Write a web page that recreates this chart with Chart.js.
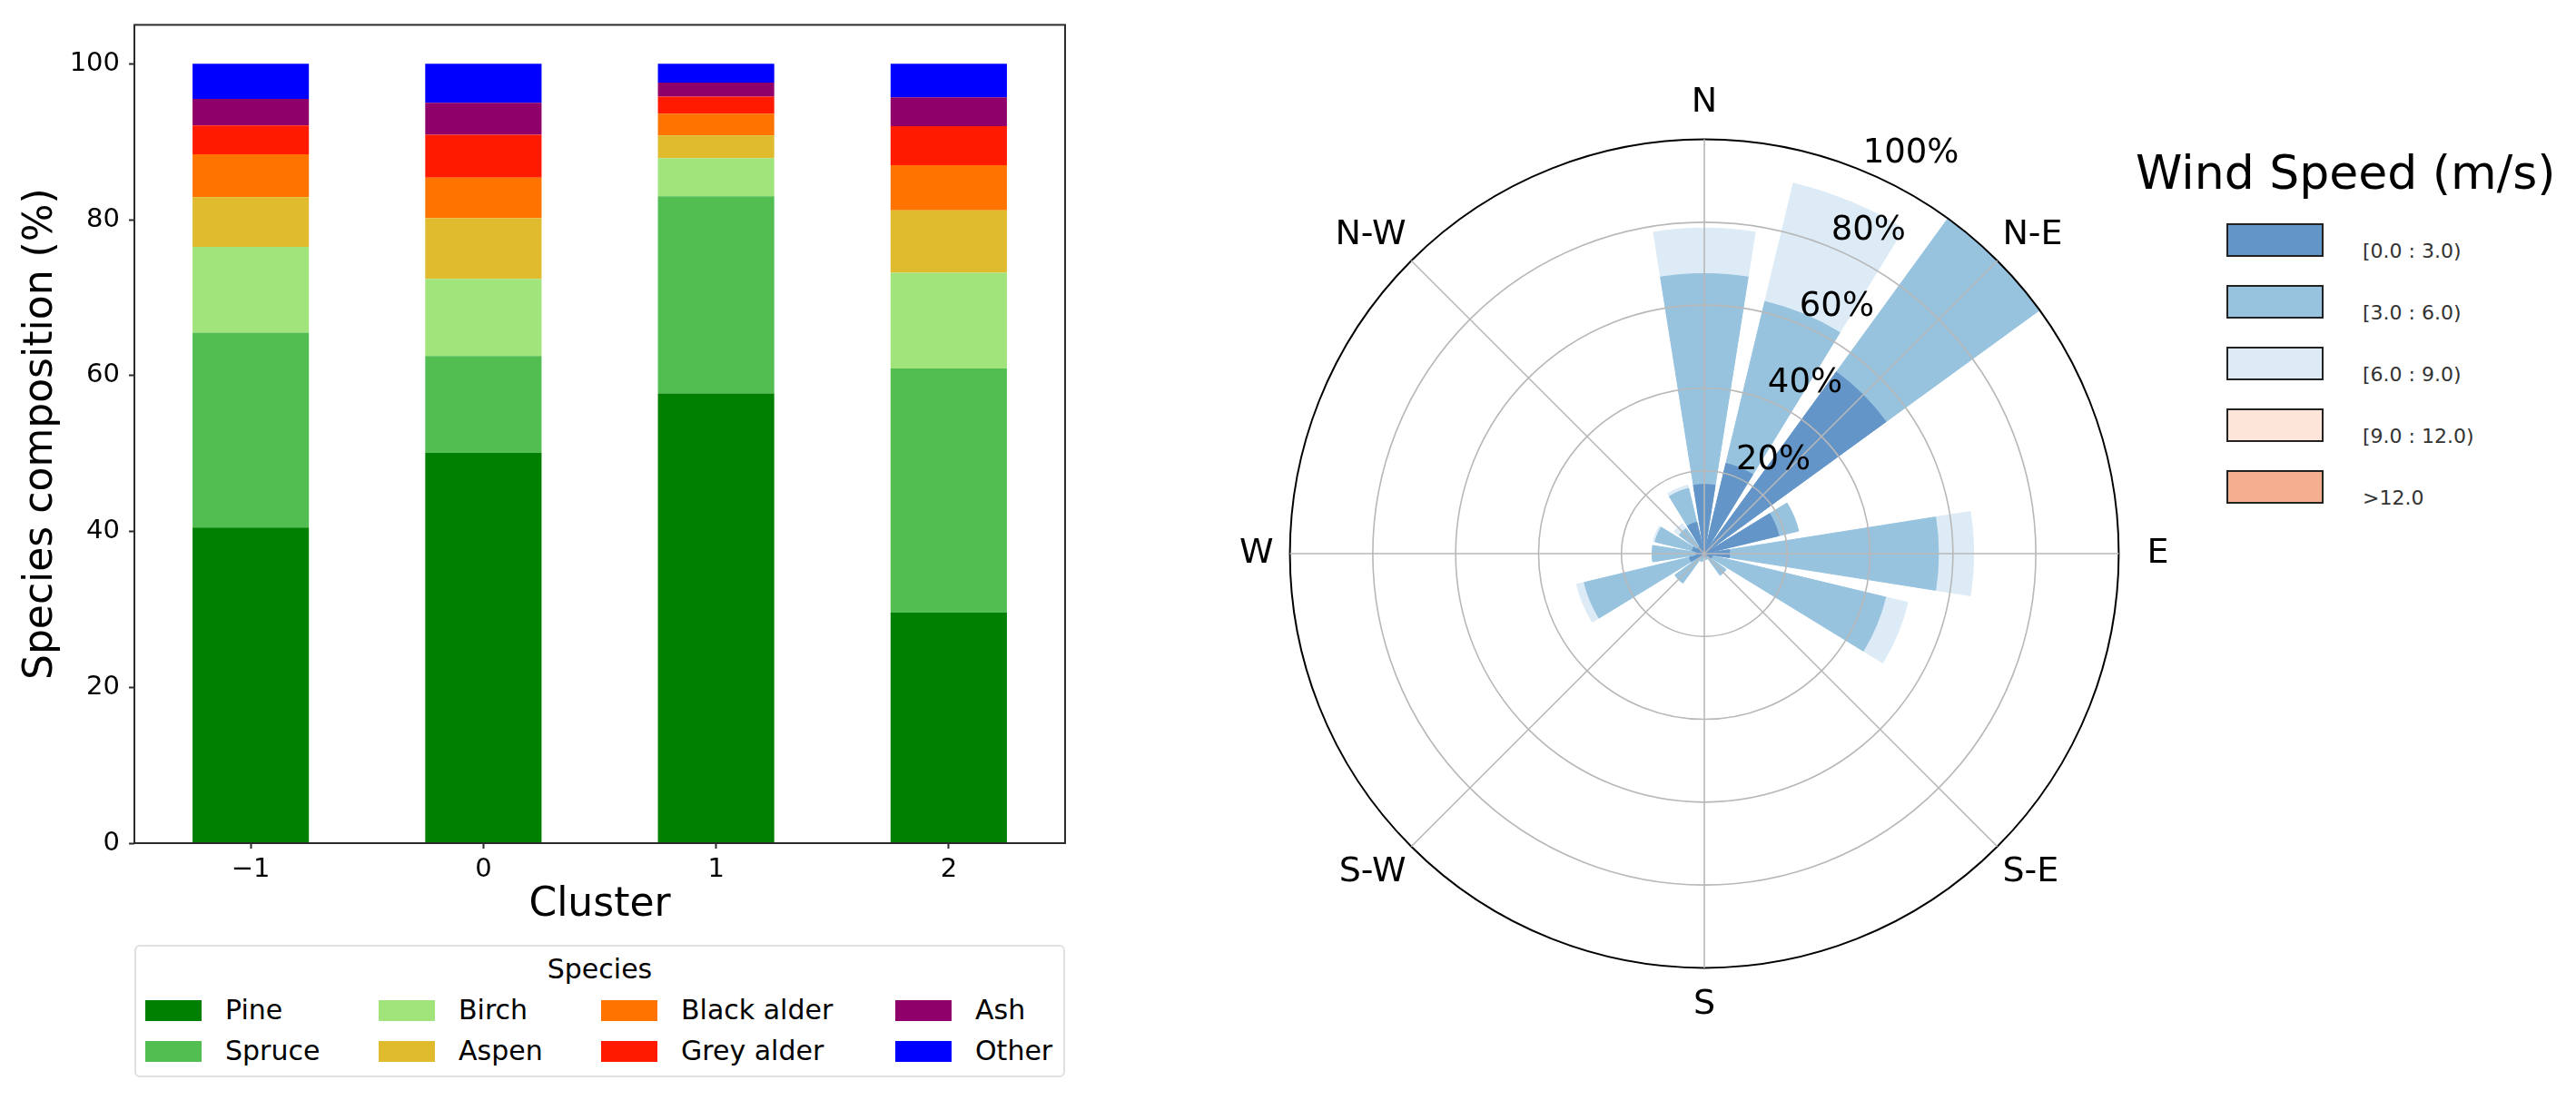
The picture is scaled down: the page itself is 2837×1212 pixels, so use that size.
<!DOCTYPE html>
<html lang="en">
<head>
<meta charset="utf-8">
<title>Species composition and wind rose</title>
<script src="https://cdn.jsdelivr.net/npm/chart.js@4.4.1/dist/chart.umd.min.js"></script>
<style>
  html, body { margin: 0; padding: 0; background: #fff; }
  body { position: relative; width: 2837px; height: 1212px; overflow: hidden;
         font-family: 'DejaVu Sans', sans-serif; color: #000; }
  .box { position: absolute; }
  #speciesLegend { position: absolute; left: 148px; top: 1041px; width: 1025px; height: 146px;
                   box-sizing: border-box; border: 2px solid #e0e0e0; border-radius: 6px; }
  .tag { position: absolute; white-space: nowrap; }
  .swatch { position: absolute; box-sizing: border-box; }
</style>
</head>
<body>
<div class="box" style="left:0;top:0;width:1300px;height:1040px"><canvas id="barChart"></canvas></div>
<div id="speciesLegend"></div>
<div class="box" style="left:1357px;top:90px;width:1040px;height:1040px"><canvas id="roseChart"></canvas></div>
<script>
// Left: species composition per cluster (%)
const clusters = ['\u22121', '0', '1', '2'];
const species = ['Pine', 'Spruce', 'Birch', 'Aspen', 'Black alder', 'Grey alder', 'Ash', 'Other'];
const speciesColors = ['#008000', '#52be52', '#a1e47b', '#e0bb2e', '#ff7400', '#ff1a00', '#8f006b', '#0000ff'];
const pine = [40.5, 50.1, 57.7, 29.6];
const spruce = [25.0, 12.4, 25.3, 31.3];
const birch = [11.0, 9.9, 4.9, 12.3];
const aspen = [6.4, 7.8, 2.9, 8.0];
const blackAlder = [5.5, 5.2, 2.8, 5.8];
const greyAlder = [3.7, 5.5, 2.2, 5.0];
const ash = [3.4, 4.1, 1.8, 3.7];
const other = [4.5, 5.0, 2.4, 4.3];
const yTicks = [0, 20, 40, 60, 80, 100];

// Right: wind rose, 16 directions, share per speed bin
const directions = ['N', 'NNE', 'NE', 'ENE', 'E', 'ESE', 'SE', 'SSE', 'S', 'SSW', 'SW', 'WSW', 'W', 'WNW', 'NW', 'NNW'];
const roseLabels = ['N', 'N-E', 'E', 'S-E', 'S', 'S-W', 'W', 'N-W'];
const speed0to3 = [16.7, 22.4, 54.2, 18.5, 6.1, 2.0, 1.0, 0.5, 0.3, 0.5, 1.0, 3.7, 2.0, 3.0, 2.0, 7.8];
const speed3to6 = [50.9, 40.2, 45.8, 4.9, 50.4, 43.0, 5.5, 1.0, 0.5, 1.5, 7.8, 26.1, 10.6, 9.2, 5.5, 8.4];
const speed6to9 = [11.0, 29.4, 0, 0, 8.5, 5.5, 0, 0, 0, 0, 0, 1.9, 0, 0.5, 1.5, 0.8];
const speed9to12 = [0, 0, 0, 0, 0, 0, 0, 0, 0, 0, 0, 0, 0, 0, 0, 0];
const speedOver12 = [0, 0, 0, 0, 0, 0, 0, 0, 0, 0, 0, 0, 0, 0, 0, 0];
const speedBins = ['[0.0 : 3.0)', '[3.0 : 6.0)', '[6.0 : 9.0)', '[9.0 : 12.0)', '>12.0'];
const speedColors = ['#6495c8', '#97c3df', '#dcebf5', '#fee5d9', '#f3af90'];
const ringTicks = [20, 40, 60, 80, 100];

const BAR_SPAN = 18;     // degrees of each wedge
const GAP_SPAN = 4.5;    // degrees between wedges
const RING_LABEL_ANGLE = 22.5;

Chart.defaults.font.family = "'DejaVu Sans', sans-serif";
Chart.defaults.color = '#000';
Chart.defaults.animation = false;

const framePlugin = {
    id: 'frame',
    afterDraw(chart) {
        const { ctx, chartArea: a } = chart;
        ctx.save();
        ctx.strokeStyle = '#2b2b2b';
        ctx.lineWidth = 2;
        ctx.strokeRect(a.left, a.top, a.right - a.left, a.bottom - a.top);
        ctx.restore();
    }
};

const ringLabels = {
    id: 'ringLabels',
    afterDraw(chart) {
        const r = chart.scales.r;
        const ctx = chart.ctx;
        const a = RING_LABEL_ANGLE * Math.PI / 180;
        ctx.save();
        ctx.font = "37px 'DejaVu Sans'";
        ctx.fillStyle = '#000';
        ctx.textAlign = 'left';
        ctx.textBaseline = 'bottom';
        r.ticks.forEach(t => {
            if (t.value <= r.min) return;
            const d = r.getDistanceFromCenterForValue(t.value);
            ctx.fillText(t.label, r.xCenter + d * Math.sin(a), r.yCenter - d * Math.cos(a));
        });
        ctx.restore();
    }
};

function initBarChart() {
    const values = [pine, spruce, birch, aspen, blackAlder, greyAlder, ash, other];
    const tickGrid = {
        display: true,
        drawOnChartArea: false,
        drawTicks: true,
        tickLength: 6,
        tickWidth: 2,
        tickColor: '#2b2b2b',
        offset: false
    };

    new Chart(document.getElementById('barChart'), {
        type: 'bar',
        data: {
            labels: clusters,
            datasets: species.map((name, i) => ({
                label: name,
                data: values[i],
                backgroundColor: speciesColors[i],
                borderWidth: 0,
                categoryPercentage: 1.0,
                barPercentage: 0.5
            }))
        },
        options: {
            responsive: true,
            maintainAspectRatio: false,
            layout: { padding: { top: 27, right: 127, bottom: 0, left: 0 } },
            plugins: { legend: { display: false }, tooltip: { enabled: false } },
            scales: {
                x: {
                    stacked: true,
                    grid: tickGrid,
                    border: { display: false },
                    ticks: { font: { size: 29 }, color: '#000', padding: 6, maxRotation: 0 },
                    title: {
                        display: true, text: 'Cluster', color: '#000',
                        font: { size: 44, lineHeight: 1 }, padding: { top: 0, bottom: 20 }
                    },
                    afterFit: s => { s.height = 111; }
                },
                y: {
                    stacked: true,
                    min: 0,
                    max: 105,
                    bounds: 'data',
                    grid: tickGrid,
                    border: { display: false },
                    afterBuildTicks: s => { s.ticks = yTicks.map(v => ({ value: v })); },
                    ticks: { font: { size: 29 }, color: '#000', padding: 10 },
                    title: {
                        display: true, text: 'Species composition (%)', color: '#000',
                        font: { size: 44, lineHeight: 1 }, padding: { top: 24, bottom: 0 }
                    },
                    afterFit: s => { s.width = 148; }
                }
            }
        },
        plugins: [framePlugin]
    });
}

// one wedge per direction; N is split across 0° so the angle lines stay on the compass points
function roseSlices(values) {
    const slices = [values[0]];
    for (let i = 1; i < values.length; i++) slices.push(0, values[i]);
    slices.push(0, values[0]);
    return slices;
}

function initRoseChart() {
    const sliceAngles = [BAR_SPAN / 2];
    for (let i = 1; i < directions.length; i++) sliceAngles.push(GAP_SPAN, BAR_SPAN);
    sliceAngles.push(GAP_SPAN, BAR_SPAN / 2);

    const table = [speed0to3, speed3to6, speed6to9, speed9to12, speedOver12];
    let running = directions.map(() => 0);
    const datasets = [];
    table.forEach((bin, k) => {
        running = running.map((v, i) => v + bin[i]);
        if (bin.every(v => v === 0)) return;
        datasets.push({
            label: speedBins[k],
            data: roseSlices(running),
            backgroundColor: speedColors[k],
            borderColor: speedColors[k],
            borderWidth: c => (c.raw > 0 ? 1 : 0),
            angle: c => sliceAngles[c.dataIndex]
        });
    });

    const labelPad = [18, 8, 31, 8, 18, 8, 18, 8];

    new Chart(document.getElementById('roseChart'), {
        type: 'polarArea',
        data: { labels: roseLabels, datasets: datasets },
        options: {
            responsive: true,
            maintainAspectRatio: false,
            layout: { padding: 0 },
            plugins: { legend: { display: false }, tooltip: { enabled: false } },
            scales: {
                r: {
                    min: 0,
                    max: 100,
                    startAngle: 0,
                    afterBuildTicks: s => { s.ticks = [0].concat(ringTicks).map(v => ({ value: v })); },
                    ticks: { display: false, callback: v => v + '%' },
                    grid: {
                        z: 1,
                        circular: true,
                        color: c => (c.tick && c.tick.value === 100 ? '#000' : '#b8b8b8'),
                        lineWidth: c => (c.tick && c.tick.value === 100 ? 2 : 1.6)
                    },
                    angleLines: { display: true, color: '#b8b8b8', lineWidth: 1.6 },
                    pointLabels: {
                        display: true,
                        color: '#000',
                        font: { size: 38 },
                        padding: c => labelPad[c.index]
                    }
                }
            }
        },
        plugins: [ringLabels]
    });
}

function addTag(text, left, centerY, size, color, height) {
    const el = document.createElement('div');
    el.className = 'tag';
    el.textContent = text;
    el.style.left = left + 'px';
    el.style.top = (centerY - height / 2) + 'px';
    el.style.height = height + 'px';
    el.style.lineHeight = height + 'px';
    el.style.fontSize = size + 'px';
    el.style.color = color;
    document.body.appendChild(el);
    return el;
}

function addSwatch(left, top, w, h, fill, border) {
    const el = document.createElement('div');
    el.className = 'swatch';
    el.style.left = left + 'px';
    el.style.top = top + 'px';
    el.style.width = w + 'px';
    el.style.height = h + 'px';
    el.style.background = fill;
    if (border) el.style.border = border;
    document.body.appendChild(el);
}

function buildSpeciesLegend() {
    const colX = [160, 417, 662, 986];
    const rowY = [1113, 1158];
    const title = addTag('Species', 0, 1068, 30, '#000', 40);
    title.style.width = (148 * 2 + 1025) + 'px';
    title.style.textAlign = 'center';
    species.forEach((name, i) => {
        const col = Math.floor(i / 2);
        const row = i % 2;
        addSwatch(colX[col], rowY[row] - 11.5, 62, 23, speciesColors[i]);
        addTag(name, colX[col] + 88, rowY[row], 30, '#000', 40);
    });
}

function buildWindLegend() {
    addTag('Wind Speed (m/s)', 2352, 190, 52, '#000', 64);
    speedBins.forEach((name, i) => {
        const top = 246 + i * 68.1;
        addSwatch(2452, top, 107, 37, speedColors[i], '2.5px solid #222');
        addTag(name, 2602, top + 30.5, 22, '#333', 30);
    });
}

initBarChart();
initRoseChart();
buildSpeciesLegend();
buildWindLegend();
</script>
</body>
</html>
